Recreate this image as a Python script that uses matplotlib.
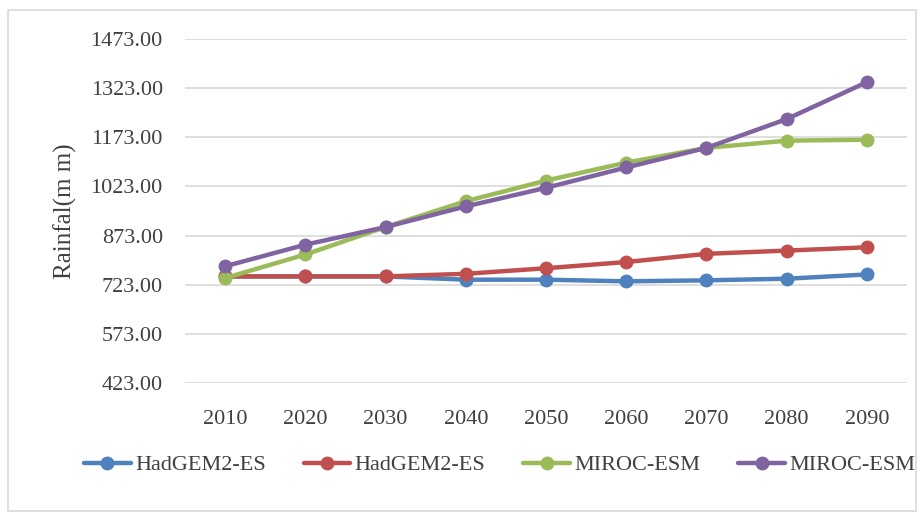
import numpy as np
import matplotlib
matplotlib.use('Agg')
import matplotlib.pyplot as plt
from matplotlib.patches import Rectangle

plt.rcParams['font.family'] = ['Liberation Serif', 'DejaVu Serif']

years = ['2010', '2020', '2030', '2040', '2050', '2060', '2070', '2080', '2090']
hadgem_a = [748, 748, 748, 738, 738, 733, 736, 741, 754]
hadgem_b = [748, 748, 748, 756, 773, 792, 817, 827, 837]
miroc_a = [743, 815, 899, 978, 1041, 1096, 1141, 1163, 1166]
miroc_b = [779, 845, 899, 962, 1019, 1081, 1141, 1229, 1342]

series = [
    ('HadGEM2-ES', hadgem_a, '#4F81BD'),
    ('HadGEM2-ES', hadgem_b, '#C0504D'),
    ('MIROC-ESM', miroc_a, '#9BBB59'),
    ('MIROC-ESM', miroc_b, '#8064A2'),
]
yticks = [423, 573, 723, 873, 1023, 1173, 1323, 1473]

fig = plt.figure(figsize=(9.22, 5.19), dpi=100)
ax = fig.add_axes([0.2007, 0.2626, 0.7830, 0.6617])

x = np.arange(len(years))
for name, vals, col in series:
    ax.plot(x, vals, color=col, lw=3.2, marker='o', ms=9, label=name,
            solid_capstyle='round')

ax.set_xlim(-0.5, len(years) - 0.5)
ax.set_ylim(423, 1473)
ax.set_yticks(yticks)
ax.set_yticklabels([f'{v:.2f}' for v in yticks])
ax.set_xticks(x)
ax.set_xticklabels(years)
ax.tick_params(length=0, labelsize=16, colors='#404040')
ax.tick_params(axis='y', pad=16)
ax.tick_params(axis='x', pad=20)
ax.grid(axis='y', color='#D9D9D9', lw=1.2)
ax.set_axisbelow(True)
for s in ax.spines.values():
    s.set_visible(False)

ax.set_ylabel('Rainfal(m m)', fontsize=18, color='#404040', labelpad=10)

fig.legend(loc='center', bbox_to_anchor=(0.542, 0.104), ncol=4,
           frameon=False, fontsize=16, handlelength=2.1, handletextpad=0.2,
           columnspacing=1.7, labelcolor='#404040')

fig.patches.append(Rectangle((0.009, 0.015), 0.985, 0.965, transform=fig.transFigure,
                             fill=False, edgecolor='#D9D9D9', lw=1.2))

fig.savefig('out.png', dpi=100)
